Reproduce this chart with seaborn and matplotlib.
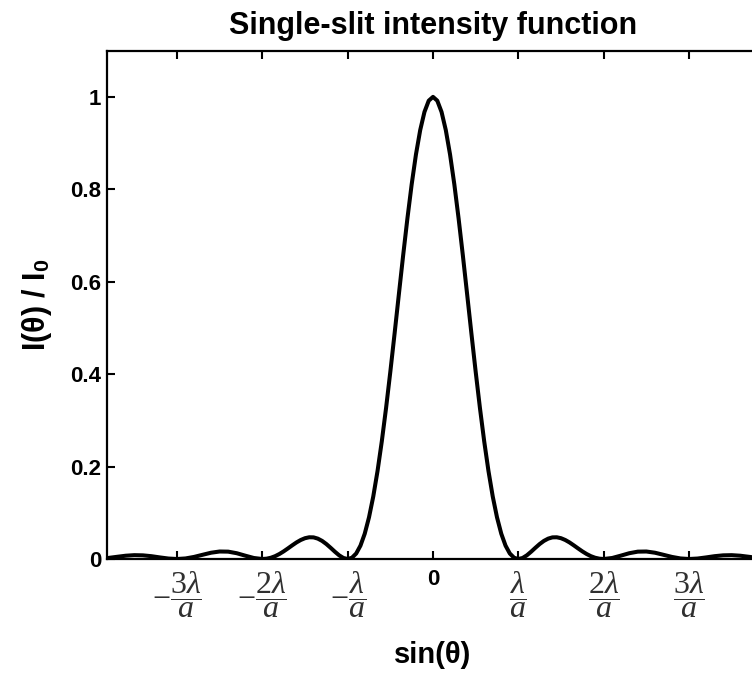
import numpy as np
import pandas as pd
import matplotlib
import matplotlib.pyplot as plt
import seaborn as sns

matplotlib.use('Agg')

# sin(theta) in units of lambda/a, and the intensity
sin_theta = [-3.8, -3.7, -3.6, -3.5, -3.4, -3.3, -3.2, -3.1, -3.0,
             -2.9, -2.8, -2.7, -2.6, -2.5, -2.4, -2.3, -2.2, -2.1, -2.0,
             -1.95, -1.9, -1.85, -1.8, -1.75, -1.7, -1.65, -1.6, -1.55, -1.5,
             -1.45, -1.4, -1.35, -1.3, -1.25, -1.2, -1.15, -1.1, -1.05, -1.0,
             -0.95, -0.9, -0.85, -0.8, -0.75, -0.7, -0.65, -0.6, -0.55, -0.5,
             -0.45, -0.4, -0.35, -0.3, -0.25, -0.2, -0.15, -0.1, -0.05, 0.0,
             0.05, 0.1, 0.15, 0.2, 0.25, 0.3, 0.35, 0.4, 0.45, 0.5,
             0.55, 0.6, 0.65, 0.7, 0.75, 0.8, 0.85, 0.9, 0.95, 1.0,
             1.05, 1.1, 1.15, 1.2, 1.25, 1.3, 1.35, 1.4, 1.45, 1.5,
             1.55, 1.6, 1.65, 1.7, 1.75, 1.8, 1.85, 1.9, 1.95, 2.0,
             2.1, 2.2, 2.3, 2.4, 2.5, 2.6, 2.7, 2.8, 2.9, 3.0,
             3.1, 3.2, 3.3, 3.4, 3.5, 3.6, 3.7, 3.8]
intensity = [0.0024, 0.0048, 0.0071, 0.0083, 0.0079, 0.0061, 0.0034, 0.0010, 0.0,
             0.0012, 0.0045, 0.0091, 0.0136, 0.0162, 0.0159, 0.0125, 0.0072, 0.0022, 0.0,
             0.0007, 0.0027, 0.0061, 0.0108, 0.0165, 0.0229, 0.0295, 0.0358, 0.0411, 0.0450,
             0.0470, 0.0468, 0.0441, 0.0392, 0.0324, 0.0243, 0.0158, 0.0080, 0.0022, 0.0,
             0.0027, 0.0119, 0.0289, 0.0547, 0.0901, 0.1353, 0.1904, 0.2546, 0.3267, 0.4053,
             0.4881, 0.5728, 0.6567, 0.7368, 0.8106, 0.8751, 0.9281, 0.9675, 0.9918, 1.0,
             0.9918, 0.9675, 0.9281, 0.8751, 0.8106, 0.7368, 0.6567, 0.5728, 0.4881, 0.4053,
             0.3267, 0.2546, 0.1904, 0.1353, 0.0901, 0.0547, 0.0289, 0.0119, 0.0027, 0.0,
             0.0022, 0.0080, 0.0158, 0.0243, 0.0324, 0.0392, 0.0441, 0.0468, 0.0470, 0.0450,
             0.0411, 0.0358, 0.0295, 0.0229, 0.0165, 0.0108, 0.0061, 0.0027, 0.0007, 0.0,
             0.0022, 0.0072, 0.0125, 0.0159, 0.0162, 0.0136, 0.0091, 0.0045, 0.0012, 0.0,
             0.0010, 0.0034, 0.0061, 0.0079, 0.0083, 0.0071, 0.0048, 0.0024]

x_ticks = [-3, -2, -1, 0, 1, 2, 3]
x_labels = [r'$-\dfrac{3\lambda}{a}$', r'$-\dfrac{2\lambda}{a}$', r'$-\dfrac{\lambda}{a}$', '0',
            r'$\dfrac{\lambda}{a}$', r'$\dfrac{2\lambda}{a}$', r'$\dfrac{3\lambda}{a}$']
y_ticks = [0, 0.2, 0.4, 0.6, 0.8, 1.0]
y_labels = ['0', '0.2', '0.4', '0.6', '0.8', '1']

df = pd.DataFrame({'sin_theta': sin_theta, 'intensity': intensity})

sns.set_style('ticks')
plt.rcParams['font.family'] = ['Liberation Sans', 'DejaVu Sans']
plt.rcParams['mathtext.fontset'] = 'custom'
plt.rcParams['mathtext.rm'] = 'Liberation Serif'
plt.rcParams['mathtext.it'] = 'Liberation Serif:italic'
plt.rcParams['mathtext.bf'] = 'Liberation Sans:bold'
plt.rcParams['text.color'] = 'black'
plt.rcParams['axes.labelcolor'] = 'black'
plt.rcParams['axes.edgecolor'] = 'black'
plt.rcParams['xtick.color'] = 'black'
plt.rcParams['ytick.color'] = 'black'

fig = plt.figure(figsize=(7.52, 6.73), dpi=100)
# axes runs past the right edge, as in the cropped original
ax = fig.add_axes([0.1423, 0.1694, 0.867, 0.7553])

sns.lineplot(data=df, x='sin_theta', y='intensity', color='black', linewidth=2.9, ax=ax)

ax.set_xlim(-3.82, 3.82)
ax.set_ylim(0, 1.1)
ax.set_xticks(x_ticks)
ax.set_xticklabels(x_labels)
ax.set_yticks(y_ticks)
ax.set_yticklabels(y_labels, fontsize=16, fontweight='bold')

for lab in ax.get_xticklabels():
    if lab.get_text() == '0':
        lab.set_fontsize(16)
        lab.set_fontweight('bold')
    else:
        lab.set_fontsize(23)
        lab.set_color('#303030')

ax.tick_params(direction='in', length=6, width=1.5, top=True, right=False)
ax.tick_params(axis='y', pad=4)
ax.tick_params(axis='x', pad=7)
for s in ax.spines.values():
    s.set_linewidth(1.6)
    s.set_visible(True)

ax.set_title('Single-slit intensity function', fontsize=22, fontweight='bold', pad=12)
ax.set_xlabel(r'sin(θ)', fontsize=21, fontweight='bold', labelpad=15)
ax.set_ylabel(r'I(θ) / I$_\mathbf{0}$', fontsize=22, fontweight='bold', labelpad=12)

fig.savefig('out.png', dpi=100)
